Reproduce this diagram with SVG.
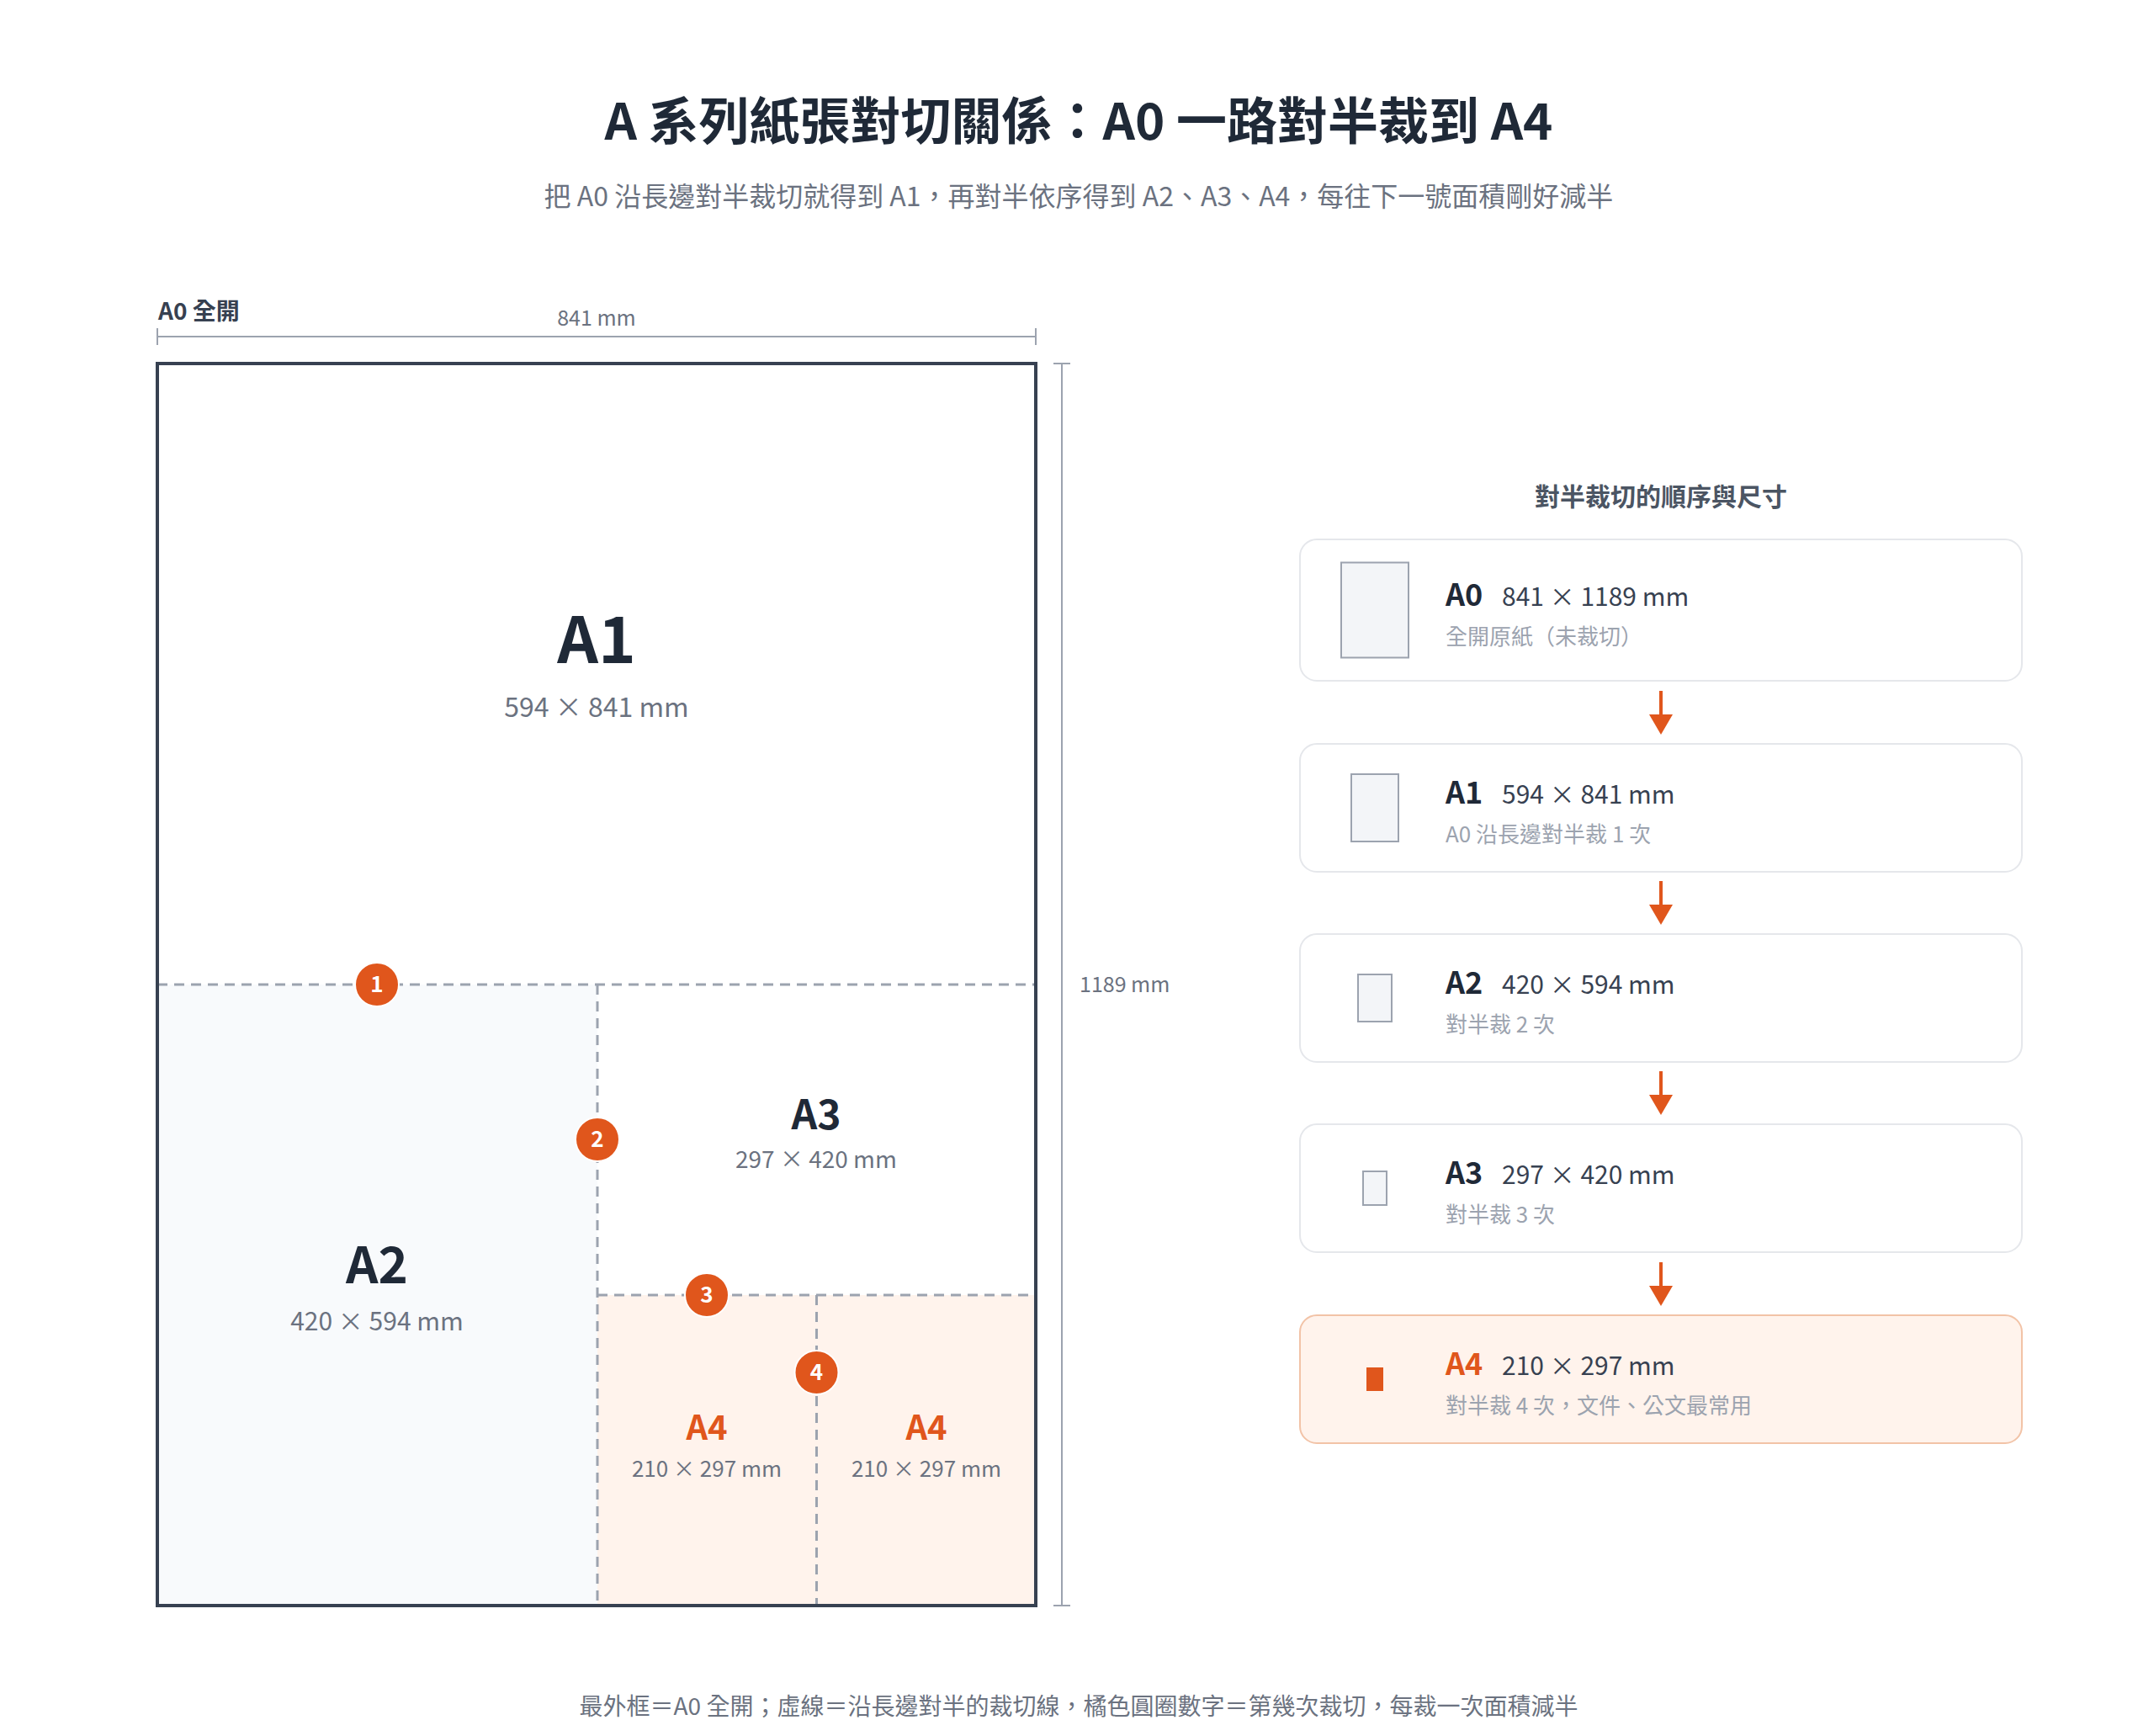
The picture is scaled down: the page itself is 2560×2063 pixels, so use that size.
<svg xmlns="http://www.w3.org/2000/svg" width="2560" height="2063" viewBox="0 0 2560 2063">
<defs>
<style>
text{font-family:"Noto Sans CJK TC","Noto Sans",sans-serif}
.title{font-size:60px;font-weight:700;fill:#1f2937;text-anchor:middle}
.subtitle{font-size:32px;fill:#6b7280;text-anchor:middle}
.foot{font-size:28px;fill:#6b7280;text-anchor:middle}
.dim{font-size:25px;fill:#6b7280}
.dimline{stroke:#9ca3af;stroke-width:2;fill:none}
.cut{stroke:#9ca3af;stroke-width:3;stroke-dasharray:12 8;fill:none}
.badge circle{fill:#e0561c;stroke:#fff;stroke-width:2}
.badge text{font-size:26px;font-weight:700;fill:#fff;text-anchor:middle}
.lbl{font-weight:700;fill:#1f2937;text-anchor:middle}
.lbl4{font-weight:700;fill:#e0561c;text-anchor:middle}
.sz{fill:#6b7280;text-anchor:middle}
.card{fill:#fff;stroke:#e5e7eb;stroke-width:2}
.card4{fill:#fff3ec;stroke:#f2c3a7;stroke-width:2}
.icon{fill:#f3f5f8;stroke:#9ca3af;stroke-width:2}
.icon4{fill:#e0561c}
.cname{font-size:36px;font-weight:700;fill:#1f2937}
.cname4{font-size:36px;font-weight:700;fill:#e0561c}
.cdim{font-size:30px;fill:#374151}
.csub{font-size:26px;fill:#9ca3af}
.arrow{stroke:#e0561c;stroke-width:4;fill:none}
</style>
<marker id="ah" viewBox="0 0 24 28" markerWidth="24" markerHeight="28" refX="14" refY="14" orient="auto" markerUnits="userSpaceOnUse">
<path d="M0,0 L24,14 L0,28 Z" fill="#e0561c"/>
</marker>
</defs>
<rect width="2560" height="2063" fill="#fff"/>

<g id="title">
<text class="title" x="1282" y="166">A 系列紙張對切關係：A0 一路對半裁到 A4</text>
<text class="subtitle" x="1282" y="245">把 A0 沿長邊對半裁切就得到 A1，再對半依序得到 A2、A3、A4，每往下一號面積剛好減半</text>
</g>

<g id="sheet-a0">
<text x="188" y="380" style="font-size:28px;font-weight:700;fill:#374151">A0 全開</text>
<g id="dim-width">
<line class="dimline" x1="187" y1="400" x2="1231" y2="400"/>
<line class="dimline" x1="187" y1="390" x2="187" y2="410"/>
<line class="dimline" x1="1231" y1="390" x2="1231" y2="410"/>
<text class="dim" x="709" y="387" text-anchor="middle">841 mm</text>
</g>
<g id="dim-height">
<line class="dimline" x1="1262" y1="432" x2="1262" y2="1908"/>
<line class="dimline" x1="1252" y1="432" x2="1272" y2="432"/>
<line class="dimline" x1="1252" y1="1908" x2="1272" y2="1908"/>
<text class="dim" x="1283" y="1179">1189 mm</text>
</g>
<rect id="region-a2-fill" x="187" y="1170" width="523" height="738" fill="#f8fafc"/>
<rect id="region-a4-fill" x="710" y="1539" width="521" height="369" fill="#fff3ec"/>
<g id="cut-lines">
<line class="cut" x1="187" y1="1170" x2="1231" y2="1170"/>
<line class="cut" x1="710" y1="1170" x2="710" y2="1908"/>
<line class="cut" x1="710" y1="1539" x2="1231" y2="1539"/>
<line class="cut" x1="970.5" y1="1539" x2="970.5" y2="1908"/>
</g>
<rect x="187" y="432" width="1044" height="1476" fill="none" stroke="#374151" stroke-width="4"/>
</g>

<g id="label-a1">
<text class="lbl" x="709" y="788" font-size="76">A1</text>
<text class="sz" x="709" y="852" font-size="32">594 × 841 mm</text>
</g>
<g id="label-a2">
<text class="lbl" x="448" y="1525" font-size="60">A2</text>
<text class="sz" x="448" y="1581" font-size="30">420 × 594 mm</text>
</g>
<g id="label-a3">
<text class="lbl" x="970" y="1342" font-size="48">A3</text>
<text class="sz" x="970" y="1388" font-size="28">297 × 420 mm</text>
</g>
<g id="label-a4-left">
<text class="lbl4" x="840" y="1711" font-size="40">A4</text>
<text class="sz" x="840" y="1755" font-size="26">210 × 297 mm</text>
</g>
<g id="label-a4-right">
<text class="lbl4" x="1101" y="1711" font-size="40">A4</text>
<text class="sz" x="1101" y="1755" font-size="26">210 × 297 mm</text>
</g>

<g id="badge-1" class="badge"><circle cx="448" cy="1170" r="26"/><text x="448" y="1179">1</text></g>
<g id="badge-2" class="badge"><circle cx="710" cy="1354" r="26"/><text x="710" y="1363">2</text></g>
<g id="badge-3" class="badge"><circle cx="840" cy="1539" r="26"/><text x="840" y="1548">3</text></g>
<g id="badge-4" class="badge"><circle cx="970.5" cy="1631" r="26"/><text x="970.5" y="1640">4</text></g>

<text id="panel-heading" x="1974" y="601" text-anchor="middle" style="font-size:30px;font-weight:700;fill:#4b5563">對半裁切的順序與尺寸</text>

<g id="card-a0">
<rect class="card" x="1545" y="641" width="858" height="168" rx="20"/>
<rect class="icon" x="1594" y="668.5" width="80" height="113"/>
<text class="cname" x="1718" y="720">A0</text>
<text class="cdim" x="1785" y="720">841 × 1189 mm</text>
<text class="csub" x="1718" y="766">全開原紙（未裁切）</text>
</g>
<g id="card-a1">
<rect class="card" x="1545" y="884" width="858" height="152" rx="20"/>
<rect class="icon" x="1606" y="920" width="56" height="80"/>
<text class="cname" x="1718" y="955">A1</text>
<text class="cdim" x="1785" y="955">594 × 841 mm</text>
<text class="csub" x="1718" y="1001">A0 沿長邊對半裁 1 次</text>
</g>
<g id="card-a2">
<rect class="card" x="1545" y="1110" width="858" height="152" rx="20"/>
<rect class="icon" x="1614" y="1158" width="40" height="56"/>
<text class="cname" x="1718" y="1181">A2</text>
<text class="cdim" x="1785" y="1181">420 × 594 mm</text>
<text class="csub" x="1718" y="1227">對半裁 2 次</text>
</g>
<g id="card-a3">
<rect class="card" x="1545" y="1336" width="858" height="152" rx="20"/>
<rect class="icon" x="1620" y="1392" width="28" height="40"/>
<text class="cname" x="1718" y="1407">A3</text>
<text class="cdim" x="1785" y="1407">297 × 420 mm</text>
<text class="csub" x="1718" y="1453">對半裁 3 次</text>
</g>
<g id="card-a4">
<rect class="card4" x="1545" y="1563" width="858" height="152" rx="20"/>
<rect class="icon4" x="1624" y="1625" width="20" height="28"/>
<text class="cname4" x="1718" y="1634">A4</text>
<text class="cdim" x="1785" y="1634">210 × 297 mm</text>
<text class="csub" x="1718" y="1680">對半裁 4 次，文件、公文最常用</text>
</g>

<g id="connectors">
<line class="arrow" x1="1974" y1="821" x2="1974" y2="863" marker-end="url(#ah)"/>
<line class="arrow" x1="1974" y1="1047" x2="1974" y2="1089" marker-end="url(#ah)"/>
<line class="arrow" x1="1974" y1="1273" x2="1974" y2="1315" marker-end="url(#ah)"/>
<line class="arrow" x1="1974" y1="1500" x2="1974" y2="1542" marker-end="url(#ah)"/>
</g>

<text id="footer" class="foot" x="1282" y="2038">最外框＝A0 全開；虛線＝沿長邊對半的裁切線，橘色圓圈數字＝第幾次裁切，每裁一次面積減半</text>
</svg>
